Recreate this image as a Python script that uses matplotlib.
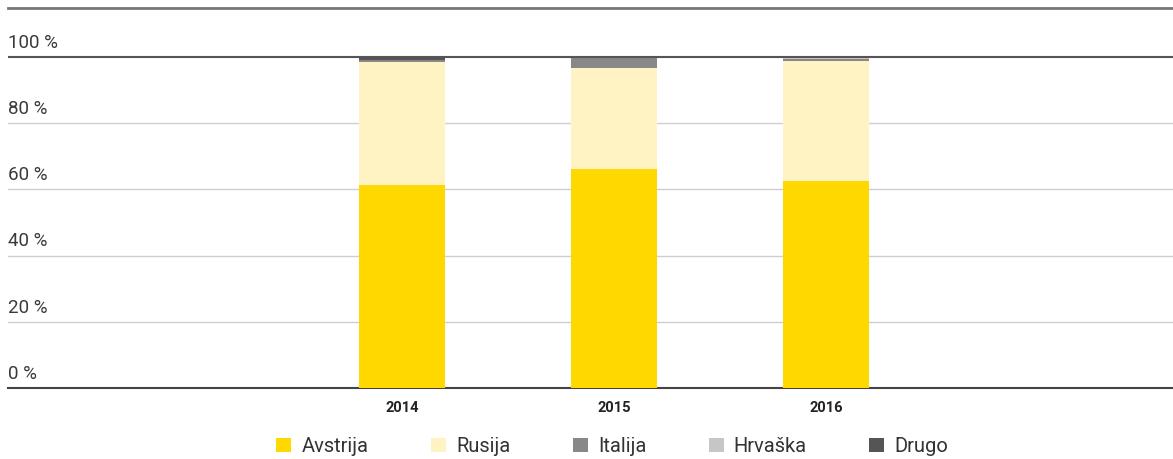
import matplotlib.pyplot as plt
import matplotlib.transforms as mtransforms
from matplotlib.patches import Patch
import numpy as np

# data (shares in %)
years = ['2014', '2015', '2016']
series = ['Avstrija', 'Rusija', 'Italija', 'Hrvaška', 'Drugo']
avstrija = [61.3, 66.2, 62.5]
rusija = [37.2, 30.5, 36.3]
italija = [0.6, 3.3, 0.6]
hrvaska = [0.0, 0.0, 0.4]
drugo = [0.9, 0.0, 0.2]
colors = ['#FFD800', '#FFF3C4', '#888888', '#C6C6C6', '#555555']

plt.rcParams['font.family'] = ['Roboto', 'DejaVu Sans']

W, H = 1173, 459
fig = plt.figure(figsize=(W / 100, H / 100), dpi=100)
# axes: left edge x=8, bottom at y=388 (0 %), top at y=8 (frame line)
ax = fig.add_axes([8 / W, (H - 388) / H, (W - 8) / W, (388 - 8) / H])

px_per_pct = (388 - 57) / 100
ytop = 100 + (57 - 8) / px_per_pct
ax.set_ylim(0, ytop)

x = np.arange(len(years))
xl = -(402 - 8) / 212
xr = 2 + (1173 - 826) / 212
ax.set_xlim(xl, xr)

bottom = np.zeros(len(years))
for vals, col in zip([avstrija, rusija, italija, hrvaska, drugo], colors):
    ax.bar(x, vals, width=0.405, bottom=bottom, color=col, zorder=3)
    bottom += np.array(vals)

# gridlines
for v in [20, 40, 60, 80]:
    ax.axhline(v, color='#CFCFCF', lw=1, zorder=1)
ax.axhline(100, color='#555555', lw=1.5, zorder=4)

for s in ['left', 'right']:
    ax.spines[s].set_visible(False)
ax.spines['bottom'].set_color('#444444')
ax.spines['bottom'].set_linewidth(1.5)
ax.spines['top'].set_color('#777777')
ax.spines['top'].set_linewidth(2)

ax.set_yticks([])
trans = mtransforms.blended_transform_factory(ax.transAxes, ax.transData)
for v in [0, 20, 40, 60, 80, 100]:
    ax.text(0, v + 1.6, f'{v} %', transform=trans, ha='left', va='bottom',
            fontsize=13.5, color='#3a3a3a')

ax.set_xticks(x)
ax.set_xticklabels(years, fontsize=10.5, fontweight='bold', color='#222222')
ax.tick_params(axis='x', length=0, pad=9)

handles = [Patch(facecolor=c, edgecolor='none') for c in colors]
fig.legend(handles, series, loc='center', bbox_to_anchor=(0.522, 0.027), ncol=5,
           frameon=False, handlelength=0.75, handleheight=0.75,
           columnspacing=3.1, handletextpad=0.5,
           prop={'size': 14.5}, labelcolor='#333333')

fig.savefig('out.png', dpi=100)
